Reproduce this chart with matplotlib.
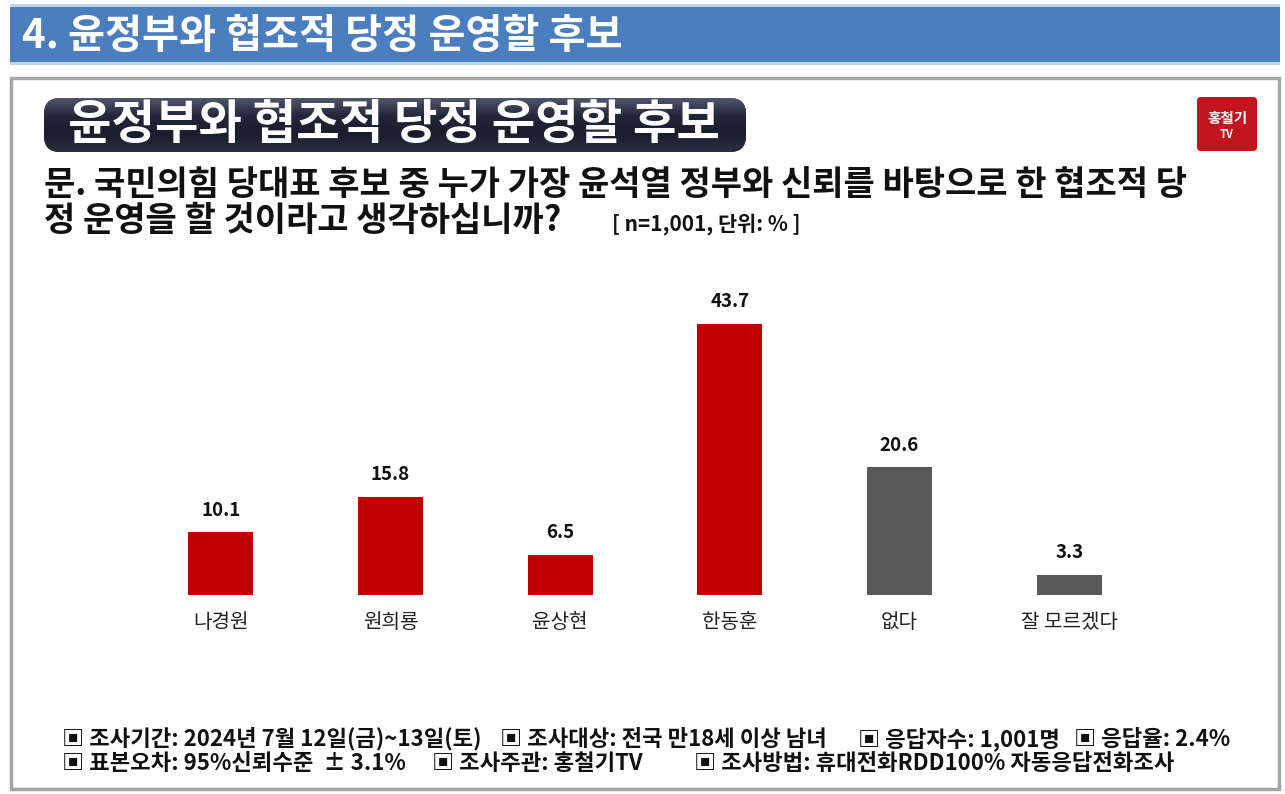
import matplotlib.pyplot as plt
import numpy as np
from matplotlib.patches import FancyBboxPatch, Rectangle
from matplotlib.colors import LinearSegmentedColormap

plt.rcParams['font.family'] = ['Noto Sans CJK KR', 'DejaVu Sans']

# data
candidates = ['나경원', '원희룡', '윤상현', '한동훈', '없다', '잘 모르겠다']
support = [10.1, 15.8, 6.5, 43.7, 20.6, 3.3]
bar_colors = ['#C00000', '#C00000', '#C00000', '#C00000', '#595959', '#595959']

header = '4. 윤정부와 협조적 당정 운영할 후보'
box_title = '윤정부와 협조적 당정 운영할 후보'
question_1 = '문. 국민의힘 당대표 후보 중 누가 가장 윤석열 정부와 신뢰를 바탕으로 한 협조적 당'
question_2 = '정 운영을 할 것이라고 생각하십니까?'
sample_note = '[ n=1,001, 단위: % ]'
footer_line1 = ['▣ 조사기간: 2024년 7월 12일(금)~13일(토)', '▣ 조사대상: 전국 만18세 이상 남녀',
                '▣ 응답자수: 1,001명', '▣ 응답율: 2.4%']
footer_line2 = ['▣ 표본오차: 95%신뢰수준  ± 3.1%', '▣ 조사주관: 홍철기TV',
                '▣ 조사방법: 휴대전화RDD100% 자동응답전화조사']

W, H = 1285, 794
fig = plt.figure(figsize=(W / 100, H / 100), dpi=100)

# background layer in pixel coordinates
bg = fig.add_axes([0, 0, 1, 1])
bg.set_xlim(0, W)
bg.set_ylim(H, 0)
bg.axis('off')

# blue header banner
bg.add_patch(Rectangle((10, 4), 1270, 3, color='#BFD3EA', lw=0))
bg.add_patch(Rectangle((10, 7), 1270, 55, color='#4A7EBF', lw=0))
bg.add_patch(Rectangle((10, 62), 1270, 3, color='#BFD3EA', lw=0))
bg.text(22, 36, header, color='white', fontsize=29, fontweight='bold', va='center', ha='left')

# outer frame
bg.add_patch(Rectangle((11, 78), 1268, 711, facecolor='white', edgecolor='#A6A6A6', lw=2.5))

# dark rounded title box with gradient
box = FancyBboxPatch((44, 98), 702, 54, boxstyle='round,pad=0,rounding_size=16',
                     facecolor='#262A3A', edgecolor='none')
bg.add_patch(box)
grad = np.linspace(0, 1, 100).reshape(-1, 1)
cmap = LinearSegmentedColormap.from_list('g', ['#50556a', '#22263a', '#1a1d2c', '#2a2e40'])
img = bg.imshow(grad, extent=(44, 746, 152, 98), cmap=cmap, aspect='auto', zorder=2)
img.set_clip_path(box)
bg.text(394, 125, box_title, color='white', fontsize=34, fontweight='bold', va='center', ha='center', zorder=3)

# logo
logo = FancyBboxPatch((1197, 97), 60, 54, boxstyle='round,pad=0,rounding_size=4',
                      facecolor='#C0141E', edgecolor='none')
bg.add_patch(logo)
bg.text(1227, 118, '홍철기', color='white', fontsize=10.5, fontweight='bold', ha='center', va='center')
bg.text(1227, 134, 'TV', color='white', fontsize=8, fontweight='bold', ha='center', va='center')

# question
bg.text(44, 185, question_1, fontsize=24.5, fontweight='bold', va='center', ha='left', color='#111111')
bg.text(44, 220, question_2, fontsize=24.5, fontweight='bold', va='center', ha='left', color='#111111')
bg.text(612, 224, sample_note, fontsize=15, fontweight='bold', va='center', ha='left', color='#111111')

# footer
for txt, fx in zip(footer_line1, [62, 500, 858, 1074]):
    bg.text(fx, 739, txt, fontsize=16, fontweight='bold', va='center', ha='left', color='#111111')
for txt, fx in zip(footer_line2, [62, 432, 694]):
    bg.text(fx, 764, txt, fontsize=16, fontweight='bold', va='center', ha='left', color='#111111')

# bar chart
ax = fig.add_axes([136 / W, 1 - 595 / H, (1154 - 136) / W, 295 / H])
x = np.arange(len(candidates))
ax.bar(x, support, width=0.383, color=bar_colors)
for xi, v in zip(x, support):
    ax.text(xi, v + 3.6, f'{v:.1f}', ha='center', va='center', fontsize=13.5, fontweight='bold', color='#111111')
ax.set_xlim(-0.5, len(candidates) - 0.5)
ax.set_ylim(0, 47.6)
ax.set_xticks(x)
ax.set_xticklabels(candidates, fontsize=14.5, fontweight='medium', color='#222222')
ax.tick_params(axis='x', length=0, pad=12)
ax.set_yticks([])
for s in ax.spines.values():
    s.set_visible(False)
ax.patch.set_alpha(0)

plt.savefig('out.png', dpi=100)
